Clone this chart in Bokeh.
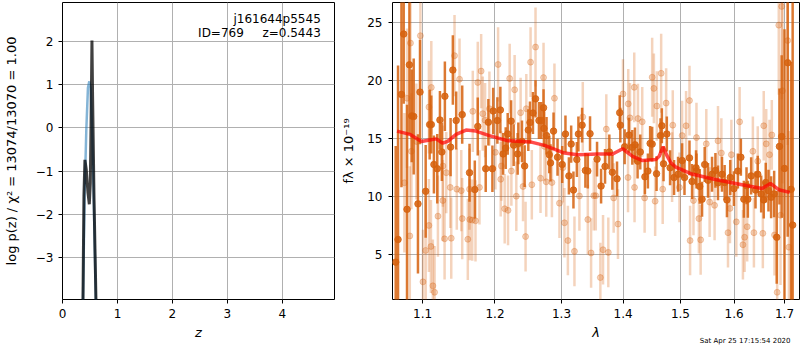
import numpy as np
from bokeh.plotting import figure
from bokeh.layouts import row
from bokeh.models import FixedTicker, CustomJSTickFormatter, Label, Range1d, ColumnDataSource
from bokeh.embed import file_html
from bokeh.resources import INLINE

# ---------------- left panel: log p(z) ----------------
z_prior = [0.371, 0.402, 0.433, 0.463, 0.488, 0.512, 0.543, 0.573, 0.610]
logp_prior = [-4.2, -1.58, -0.06, 0.93, 1.08, 0.93, -0.21, -1.89, -4.2]
z_post = [0.371, 0.390, 0.408, 0.433, 0.463, 0.488, 0.506, 0.525, 0.536, 0.548, 0.573, 0.612]
logp_post = [-4.2, -1.58, -0.74, -0.97, -1.50, -1.77, -1.28, 0.70, 2.03, 0.70, -1.58, -4.2]
left_xticks = [0, 1, 2, 3, 4]
left_yticks = [-3, -2, -1, 0, 1, 2]
obj_name = "j161644p5545"
obj_id = "ID=769"
obj_z = "z=0.5443"

# ---------------- right panel: spectrum ----------------
# strong (dark) points
wave_d = [1.0649, 1.0679, 1.0723, 1.0752, 1.0795, 1.0826, 1.0856, 1.0882, 1.0938, 1.0965,
          1.1040, 1.1093, 1.1115, 1.1150, 1.1195, 1.1231, 1.1257, 1.1298, 1.1376, 1.1407,
          1.1453, 1.1536, 1.1638, 1.1712, 1.1754, 1.1867, 1.1905,
          1.1963, 1.1974, 1.2035, 1.2078, 1.2118, 1.2156, 1.2185, 1.2235, 1.2273, 1.2332,
          1.2342, 1.2396, 1.2436, 1.2491, 1.2516, 1.2561, 1.2600, 1.2652, 1.2687, 1.2722,
          1.2728, 1.2768, 1.2810, 1.2829, 1.2876, 1.2938, 1.3011, 1.3062, 1.3116, 1.3152,
          1.3188, 1.3242, 1.3267, 1.3326, 1.3379, 1.3418, 1.3454,
          1.3568, 1.3634, 1.3699, 1.3770, 1.3820, 1.3898, 1.3943, 1.3953, 1.4026, 1.4099,
          1.4156, 1.4201, 1.4246, 1.4292, 1.4372, 1.4424, 1.4463, 1.4498, 1.4575, 1.4645,
          1.4668, 1.4698, 1.4756, 1.4814, 1.4885, 1.4957, 1.5030, 1.5073, 1.5164, 1.5211,
          1.5284, 1.5292, 1.5352, 1.5395, 1.5444, 1.5506, 1.5581, 1.5645, 1.5693, 1.5769,
          1.5819, 1.5863, 1.5926, 1.5996, 1.6073, 1.6131, 1.6189, 1.6241, 1.6267, 1.6332,
          1.6418, 1.6462, 1.6530, 1.6581, 1.6621, 1.6676, 1.6729, 1.6790, 1.6842, 1.6897,
          1.6943, 1.7000, 1.7066, 1.7136, 1.7168]
flux_d = [4.35, 6.30, 18.80, 24.00, 8.90, 21.35, 16.95, 16.90, 9.37, 19.00,
          10.45, 16.20, 16.20, 12.76, 12.40, 16.60, 13.84, 18.64, 14.26, 20.90,
          16.55, 17.06, 12.06, 10.60, 16.04, 12.40, 16.40,
          12.40, 17.37, 16.55, 17.46, 13.67, 14.18, 15.40, 16.50, 14.43, 13.67,
          14.58, 14.75, 12.63, 15.73, 16.38, 17.20, 18.42, 16.55, 16.55, 17.65,
          15.87, 15.25, 13.61, 12.90, 15.64, 13.39, 12.76, 15.39, 11.78, 14.52,
          10.56, 13.19, 15.39, 16.15, 12.25, 12.20, 15.42,
          13.22, 10.90, 12.60, 13.84, 12.09, 11.53, 17.23, 16.15, 14.29, 15.30,
          14.24, 14.46, 13.05, 13.84, 11.70, 12.20, 14.58, 14.52, 11.97, 15.25,
          16.10, 12.82, 15.39, 12.48, 11.64, 11.92, 13.10, 11.64, 13.33, 11.30,
          12.48, 12.20, 10.87, 9.77, 12.76, 11.40, 11.92, 12.25, 11.18, 11.92,
          11.21, 9.71, 11.64, 10.68, 12.20, 13.39, 9.77, 10.93, 9.77, 11.78,
          10.56, 11.92, 10.22, 9.71, 11.21, 10.51, 9.94, 10.22, 6.49, 14.32,
          15.17, 12.42, 21.53, 10.62, 7.54]
err_d = [10.0, 15.0, 8.0, 6.0, 9.0, 6.0, 4.0, 5.0, 6.0, 4.5,
         4.0, 3.0, 2.5, 2.5, 3.0, 2.5, 2.5, 3.0, 2.5, 3.0,
         2.5, 2.5, 2.5, 2.5, 2.5, 2.0, 2.0,
         2.0, 2.0, 2.0, 2.0, 1.8, 1.8, 1.8, 1.8, 1.8, 1.8,
         1.8, 1.8, 1.8, 1.8, 1.8, 1.8, 1.6, 1.6, 1.6, 1.6,
         1.6, 1.6, 1.6, 1.6, 1.6, 1.6, 1.6, 1.6, 1.6, 1.6,
         1.6, 1.5, 1.5, 1.5, 1.5, 1.5, 1.5,
         1.5, 1.5, 1.5, 1.5, 1.5, 1.5, 1.5, 1.5, 1.5, 1.5,
         1.5, 1.5, 1.5, 1.5, 1.5, 1.5, 1.5, 1.5, 1.5, 1.5,
         1.5, 1.5, 1.5, 1.5, 1.5, 1.5, 1.5, 1.5, 1.5, 1.5,
         1.5, 1.5, 1.5, 1.5, 1.5, 1.5, 1.5, 1.5, 1.5, 1.5,
         1.5, 1.5, 1.5, 1.5, 1.5, 1.6, 1.6, 1.6, 1.6, 1.6,
         1.6, 1.6, 1.6, 1.6, 1.7, 1.8, 1.8, 2.0, 4.0, 5.0,
         7.0, 12.0, 15.0, 11.0, 20.0]

# weak (light) points
wave_l = [1.0761, 1.0795, 1.0831, 1.0840, 1.0852, 1.0917, 1.0970, 1.1004, 1.1040, 1.1083,
          1.1083, 1.1110, 1.1115, 1.1136, 1.1159, 1.1204, 1.1271, 1.1271, 1.1294, 1.1317,
          1.1371, 1.1385, 1.1430, 1.1461, 1.1499, 1.1523, 1.1536, 1.1614, 1.1638, 1.1642,
          1.1676, 1.1684, 1.1722, 1.1754, 1.1778, 1.1802, 1.1825, 1.1858, 1.1920,
          1.2006, 1.2045, 1.2083, 1.2093, 1.2141, 1.2190, 1.2214, 1.2239, 1.2287, 1.2312,
          1.2376, 1.2412, 1.2450, 1.2461, 1.2525, 1.2544, 1.2600, 1.2676, 1.2722, 1.2737,
          1.2763, 1.2851, 1.2890, 1.2968, 1.3021, 1.3046, 1.3100, 1.3204, 1.3283, 1.3337,
          1.3418, 1.3471, 1.3515,
          1.3547, 1.3622, 1.3666, 1.3720, 1.3753, 1.3842, 1.3914, 1.3998, 1.4083, 1.4087,
          1.4116, 1.4189, 1.4194, 1.4252, 1.4326, 1.4367, 1.4498, 1.4528, 1.4550, 1.4580,
          1.4656, 1.4683, 1.4744, 1.4850, 1.4862, 1.4982, 1.5030, 1.5102, 1.5164, 1.5175,
          1.5237, 1.5292, 1.5337, 1.5369, 1.5474, 1.5536, 1.5629, 1.5693, 1.5757, 1.5883,
          1.5921, 1.5948, 1.6043, 1.6107, 1.6171, 1.6204, 1.6254, 1.6366, 1.6386, 1.6462,
          1.6563, 1.6581, 1.6631, 1.6697, 1.6743, 1.6797, 1.6851, 1.6884, 1.6919, 1.6943,
          1.6959, 1.7066, 1.7091]
flux_l = [11.19, 18.47, 6.61, 23.22, 13.90, 14.75, 23.86, 2.65, 5.36, 17.71,
          7.51, 5.70, 19.40, 2.31, 1.75, 8.31, 12.63, 9.66, 6.36, 12.06,
          10.79, 6.41, 22.14, 10.64, 20.11, 10.51, 8.10, 6.32, 10.64, 8.02,
          7.97, 17.34, 7.91, 19.83, 10.79, 20.81, 17.14, 16.58, 17.57,
          13.81, 21.38, 11.49, 12.63, 8.95, 8.81, 20.17, 12.20, 19.20, 10.03,
          17.23, 10.87, 6.55, 17.57, 21.58, 11.02, 22.88, 11.58, 20.25, 14.32,
          11.27, 11.21, 18.47, 9.43, 12.48, 7.74, 6.21, 5.28, 10.05, 16.86,
          8.02, 5.14, 10.08,
          10.08, 3.02, 5.42, 15.81, 5.19, 9.88, 7.63, 18.84, 11.64, 17.99,
          16.78, 19.41, 10.79, 16.72, 16.44, 9.88, 20.28, 19.32, 9.60, 17.80,
          20.62, 10.64, 18.05, 12.54, 16.15, 10.79, 15.25, 16.10, 18.27, 6.21,
          9.66, 15.08, 8.10, 6.27, 14.54, 9.52, 9.24, 14.80, 13.75, 6.89,
          8.98, 13.61, 7.82, 16.44, 5.85, 6.49, 7.40, 13.90, 6.89, 13.05,
          6.83, 16.10, 14.54, 13.61, 15.31, 6.69, 1.75, 24.77, 8.39, 26.38,
          19.12, 23.44, 5.64]
err_l = [6.0, 6.0, 6.0, 6.0, 5.0, 5.0, 5.0, 4.5, 4.5, 4.0,
         4.0, 4.0, 4.0, 4.0, 4.0, 3.5, 3.5, 3.5, 3.5, 3.5,
         3.5, 3.5, 3.5, 3.5, 3.5, 3.5, 3.5, 3.5, 3.5, 3.5,
         3.5, 3.5, 3.5, 3.5, 3.2, 3.2, 3.2, 3.2, 3.2,
         3.2, 3.2, 3.2, 3.0, 3.0, 3.0, 3.0, 3.0, 3.0, 3.0,
         3.0, 3.0, 3.0, 3.0, 3.0, 3.0, 3.4, 3.0, 3.0, 3.0,
         3.0, 3.0, 3.0, 3.0, 3.0, 3.0, 3.0, 3.0, 3.0, 3.0,
         3.0, 3.0, 3.0,
         3.0, 3.0, 3.0, 3.0, 3.0, 3.0, 3.0, 3.0, 3.0, 3.0,
         3.0, 3.0, 3.0, 3.0, 3.0, 3.0, 3.4, 3.0, 3.0, 3.0,
         3.4, 3.0, 3.0, 3.0, 3.0, 3.0, 3.0, 3.0, 3.0, 3.0,
         3.0, 3.0, 3.0, 3.0, 3.0, 3.0, 3.0, 3.0, 3.0, 3.0,
         3.0, 3.0, 3.0, 3.0, 3.0, 3.0, 3.0, 3.0, 3.0, 3.0,
         3.0, 3.0, 3.0, 3.0, 3.0, 3.5, 5.0, 6.0, 6.0, 8.0,
         8.0, 9.0, 10.0]

# model
wave_m = [1.0666, 1.0832, 1.0983, 1.1093, 1.1181, 1.1269, 1.1336, 1.1452, 1.1589, 1.1728,
          1.1918, 1.2191, 1.2536, 1.2737, 1.3046, 1.3257, 1.3580, 1.3826, 1.3992, 1.4161,
          1.4332, 1.4563, 1.4621, 1.4691, 1.4756, 1.4830, 1.4916, 1.5187, 1.5619, 1.5932,
          1.6253, 1.6549, 1.6716, 1.6883, 1.7107]
flux_m = [15.64, 15.36, 14.75, 14.88, 14.97, 14.60, 14.75, 15.36, 15.73, 15.64,
          15.25, 14.80, 14.69, 14.41, 13.75, 13.61, 13.67, 13.67, 14.12, 13.47,
          13.10, 13.19, 13.47, 14.29, 13.55, 12.90, 12.54, 11.97, 11.49, 11.21,
          10.93, 10.70, 11.13, 10.59, 10.36]
right_xticks = [1.1, 1.2, 1.3, 1.4, 1.5, 1.6, 1.7]
right_yticks = [5, 10, 15, 20, 25]
timestamp = "Sat Apr 25 17:15:54 2020"

FONT = "DejaVu Sans"
ORANGE = "#d6620e"


def style(p):
    p.outline_line_color = "black"
    p.outline_line_width = 1
    p.outline_line_alpha = 1
    p.background_fill_color = "white"
    p.border_fill_color = "white"
    for ax in p.axis:
        ax.axis_line_color = None
        ax.major_tick_line_color = "black"
        ax.major_tick_out = 4
        ax.major_tick_in = 0
        ax.minor_tick_line_color = None
        ax.major_label_text_font = FONT
        ax.major_label_text_font_size = "12px"
        ax.major_label_text_color = "black"
        ax.axis_label_text_font = FONT
        ax.axis_label_text_font_size = "13px"
        ax.axis_label_text_color = "black"
        ax.axis_label_text_font_style = "normal"
    for g in p.grid:
        g.grid_line_color = "#b0b0b0"
        g.grid_line_width = 1


minus_fmt = CustomJSTickFormatter(code="return (tick < 0 ? '\\u2212' : '') + Math.abs(tick).toString();")

# ---------- left figure ----------
p1 = figure(width=338, height=350, output_backend="svg", toolbar_location=None,
            x_range=Range1d(0, 4.95), y_range=Range1d(-3.98, 2.91),
            min_border_left=62, min_border_right=4, min_border_top=2, min_border_bottom=46)
p1.line(z_prior, logp_prior, color="#1f77b4", alpha=0.55, line_width=2.5)
p1.line(z_post, logp_post, color="black", alpha=0.75, line_width=3)
p1.xaxis.ticker = FixedTicker(ticks=left_xticks)
p1.yaxis.ticker = FixedTicker(ticks=left_yticks)
p1.yaxis.formatter = minus_fmt
p1.xaxis.axis_label = "z"
p1.yaxis.axis_label = "log p(z) / χ² = 13074/13070 = 1.00"
style(p1)
p1.xaxis.axis_label_text_font_style = "italic"
p1.xaxis.major_label_standoff = 5
p1.xaxis.axis_label_standoff = 4
p1.yaxis.major_label_standoff = 5
p1.yaxis.axis_label_standoff = 14
p1.add_layout(Label(x=4.70, y=2.53, text=obj_name, text_align="right", text_baseline="middle",
                    text_font=FONT, text_font_size="12px", text_color="black"))
p1.add_layout(Label(x=4.70, y=2.21, text=obj_z, text_align="right", text_baseline="middle",
                    text_font=FONT, text_font_size="12px", text_color="black"))
p1.add_layout(Label(x=3.30, y=2.21, text=obj_id, text_align="right", text_baseline="middle",
                    text_font=FONT, text_font_size="12px", text_color="black"))

# ---------- right figure ----------
src_l = ColumnDataSource(dict(x=wave_l, y=flux_l,
                              lo=list(np.array(flux_l) - np.array(err_l)),
                              hi=list(np.array(flux_l) + np.array(err_l))))
src_d = ColumnDataSource(dict(x=wave_d, y=flux_d,
                              lo=list(np.array(flux_d) - np.array(err_d)),
                              hi=list(np.array(flux_d) + np.array(err_d))))

p2 = figure(width=462, height=350, output_backend="svg", toolbar_location=None,
            x_axis_type="log", x_range=Range1d(1.0608, 1.731), y_range=Range1d(1.13, 26.72),
            min_border_left=52, min_border_right=1, min_border_top=2, min_border_bottom=46)
p2.segment(x0="x", y0="lo", x1="x", y1="hi", source=src_l, color=ORANGE, alpha=0.28, line_width=2.5)
p2.scatter("x", "y", source=src_l, size=6, color=ORANGE, alpha=0.28)
p2.segment(x0="x", y0="lo", x1="x", y1="hi", source=src_d, color=ORANGE, alpha=0.85, line_width=2.5)
p2.scatter("x", "y", source=src_d, size=6.5, color=ORANGE, alpha=0.85)
p2.line(wave_m, flux_m, color="red", alpha=0.7, line_width=3.5)
p2.xaxis.ticker = FixedTicker(ticks=right_xticks, minor_ticks=[])
p2.xaxis.formatter = CustomJSTickFormatter(code="return tick.toFixed(1);")
p2.yaxis.ticker = FixedTicker(ticks=right_yticks)
p2.xaxis.axis_label = "λ"
p2.yaxis.axis_label = "fλ × 10⁻¹⁹"
style(p2)
p2.xaxis.axis_label_text_font_style = "italic"
p2.xaxis.major_label_standoff = 5
p2.xaxis.axis_label_standoff = 4
p2.yaxis.major_label_standoff = 6
p2.yaxis.axis_label_standoff = 8
# timestamp placed in the bottom side panel, right-aligned under the frame
p2.add_layout(Label(x=398, y=10, x_units="screen", y_units="screen", text=timestamp,
                    text_align="right", text_baseline="middle",
                    text_font=FONT, text_font_size="7px", text_color="black"), "below")

layout = row(p1, p2)
open("out.html", "w").write(file_html(layout, INLINE))
